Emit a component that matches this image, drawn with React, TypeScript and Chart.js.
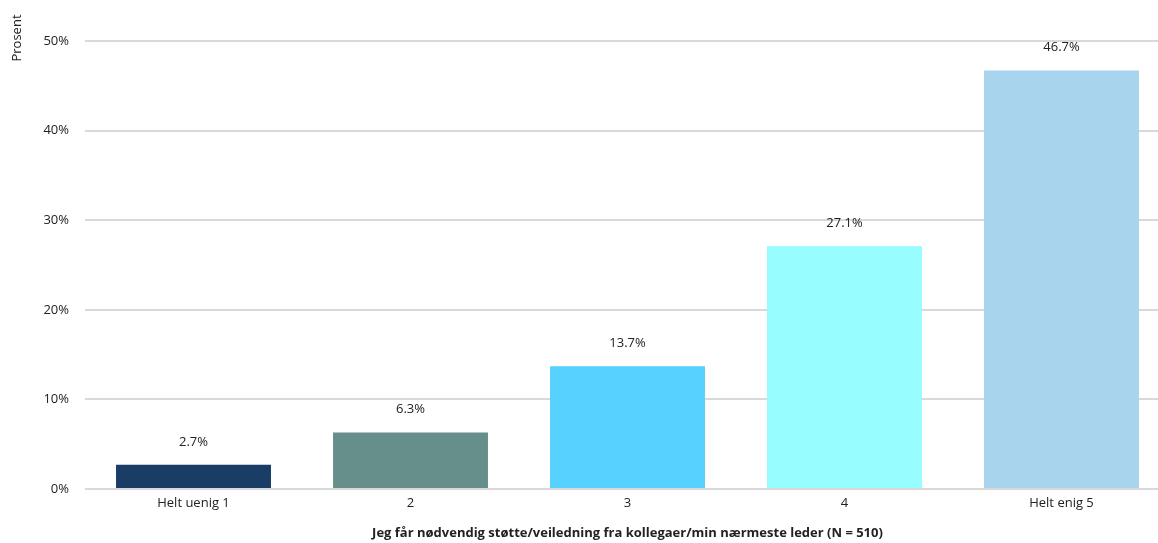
import React, { useEffect, useRef } from "react";
import { Chart, registerables } from "chart.js";

Chart.register(...registerables);

const categories = ["Helt uenig 1", "2", "3", "4", "Helt enig 5"];
const values = [2.7, 6.3, 13.7, 27.1, 46.7];
const barColors = ["#1a3d66", "#668f8c", "#55d0ff", "#96fcff", "#a8d4ee"];
const yTicks = [0, 10, 20, 30, 40, 50];
const xTitle = "Jeg får nødvendig støtte/veiledning fra kollegaer/min nærmeste leder (N = 510)";
const yTitle = "Prosent";

const FONT = "'Open Sans', 'Liberation Sans', sans-serif";

const labelPlugin = {
  id: "barLabels",
  afterDatasetsDraw(chart: any) {
    const ctx = chart.ctx;
    const meta = chart.getDatasetMeta(0);
    ctx.save();
    ctx.font = `13px ${FONT}`;
    ctx.fillStyle = "#222222";
    ctx.textAlign = "center";
    ctx.textBaseline = "middle";
    meta.data.forEach((el: any, i: number) => {
      ctx.fillText(values[i].toFixed(1) + "%", el.x, el.y - 23);
    });
    ctx.restore();
  },
};

const yTitlePlugin = {
  id: "yTitle",
  afterDraw(chart: any) {
    const ctx = chart.ctx;
    ctx.save();
    ctx.font = `13px ${FONT}`;
    ctx.fillStyle = "#222222";
    ctx.textAlign = "center";
    ctx.textBaseline = "middle";
    ctx.translate(17, 38);
    ctx.rotate(-Math.PI / 2);
    ctx.fillText(yTitle, 0, 0);
    ctx.restore();
  },
};

export default function App() {
  const ref = useRef<HTMLCanvasElement | null>(null);
  useEffect(() => {
    if (!ref.current) return;
    const chart = new Chart(ref.current, {
      type: "bar",
      data: {
        labels: categories,
        datasets: [
          {
            data: values,
            backgroundColor: barColors,
            borderWidth: 0,
            barPercentage: 0.714,
            categoryPercentage: 1,
          },
        ],
      },
      options: {
        animation: false,
        responsive: false,
        maintainAspectRatio: false,
        layout: { padding: { top: 41, right: 10, left: 0, bottom: 0 } },
        plugins: {
          legend: { display: false },
          tooltip: { enabled: false },
        },
        scales: {
          x: {
            grid: { display: false, drawTicks: false },
            border: { display: false },
            ticks: {
              color: "#222222",
              font: { family: FONT, size: 13 },
              padding: 6,
              maxRotation: 0,
            },
            title: {
              display: true,
              text: xTitle,
              color: "#222222",
              font: { family: FONT, size: 13, weight: "bold" },
              padding: { top: 0, bottom: 2 },
            },
            afterFit: (s: any) => {
              s.height = 54;
            },
          },
          y: {
            min: 0,
            max: 50,
            afterBuildTicks: (s: any) => {
              s.ticks = yTicks.map((v) => ({ value: v }));
            },
            grid: { color: "#d9d9d9", lineWidth: 2, drawTicks: false },
            border: { display: false },
            ticks: {
              color: "#222222",
              font: { family: FONT, size: 13 },
              padding: 16,
              callback: (v: any) => v + "%",
            },
            afterFit: (s: any) => {
              s.width = 85;
            },
          },
        },
      },
      plugins: [labelPlugin, yTitlePlugin],
    });
    return () => chart.destroy();
  }, []);
  return (
    <div style={{ position: "fixed", left: 0, top: 0, width: 1158, height: 543, overflow: "hidden", background: "#fff" }}>
      <canvas ref={ref} width={1180} height={543} style={{ width: 1180, height: 543, display: "block" }} />
    </div>
  );
}
